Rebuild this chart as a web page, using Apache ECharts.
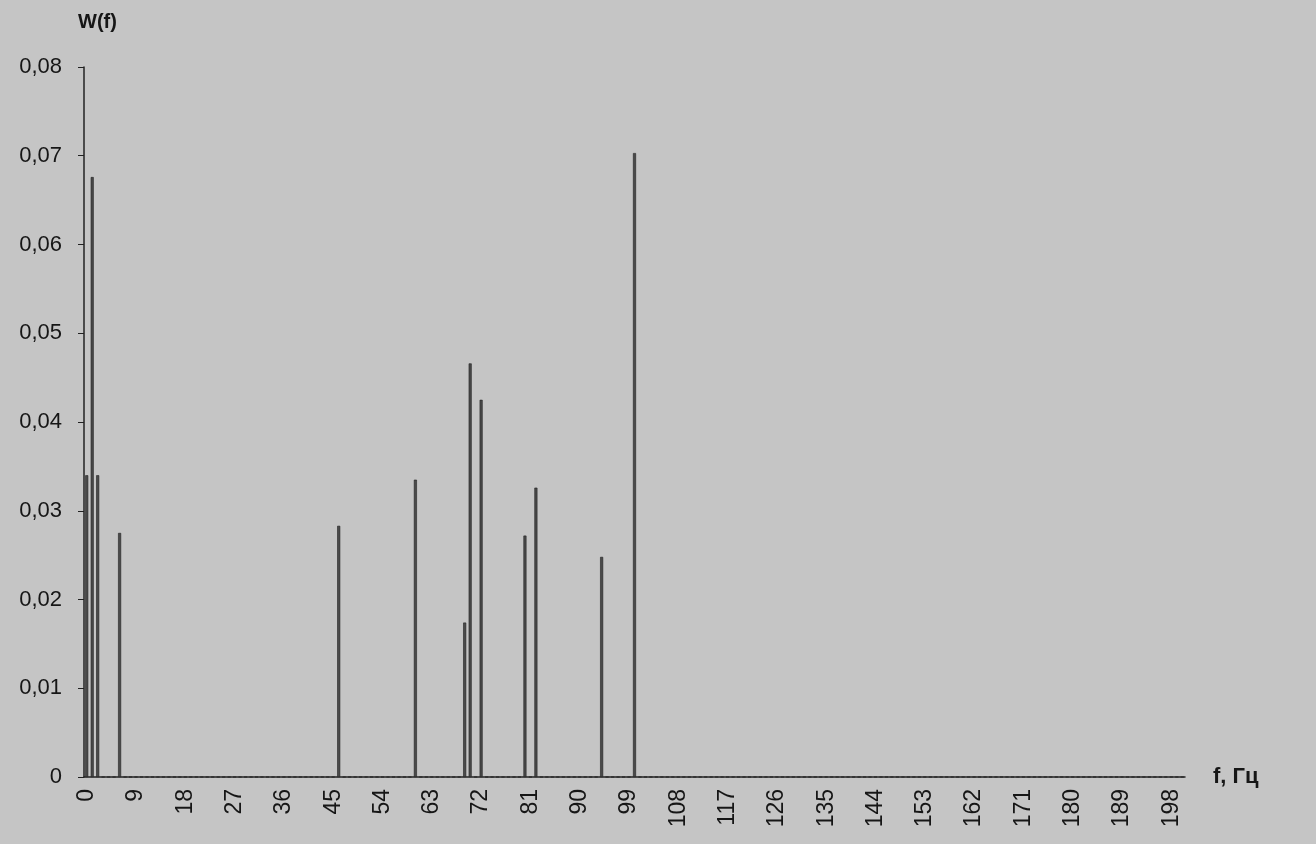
<!DOCTYPE html>
<html>
<head>
<meta charset="utf-8">
<title>W(f)</title>
<script src="https://cdn.jsdelivr.net/npm/echarts@6/dist/echarts.min.js"></script>
<style>
  html, body { margin: 0; padding: 0; background: #c5c5c5; }
  #chart { width: 1316px; height: 844px; }
</style>
</head>
<body>
<div id="chart"></div>
<script>
// частоты, Гц (ось категорий 0..200)
const freqCount = 201;
// пики спектра
const peakFreqs = [0, 1, 2, 6, 46, 60, 69, 70, 72, 80, 82, 94, 100];
const peakValues = [0.034, 0.0676, 0.034, 0.0275, 0.0283, 0.0335, 0.0174, 0.0466, 0.0425, 0.0272, 0.0326, 0.0248, 0.0703];
const yTicks = [0, 0.01, 0.02, 0.03, 0.04, 0.05, 0.06, 0.07, 0.08];

const categories = [];
const values = [];
for (let i = 0; i < freqCount; i++) {
  categories.push(String(i));
  values.push(0);
}
peakFreqs.forEach((f, k) => {
  values[f] = peakValues[k];
});

const textColor = '#161616';
const font = 'Liberation Sans, Arial, sans-serif';

const chart = echarts.init(document.getElementById('chart'));
const option = {
  backgroundColor: '#c5c5c5',
  animation: false,
  grid: { left: 84, right: 131, top: 67, bottom: 67 },
  xAxis: {
    type: 'category',
    data: categories,
    name: 'f, Гц',
    nameLocation: 'end',
    nameGap: 28,
    nameTextStyle: { color: textColor, fontSize: 22, fontWeight: 'bold', fontFamily: font },
    axisLine: { lineStyle: { color: '#222', width: 1.5 } },
    axisTick: { interval: 0, length: 7, lineStyle: { color: '#2a2a2a', width: 1.5 } },
    axisLabel: {
      interval: 8,
      rotate: 90,
      margin: 12,
      color: textColor,
      fontSize: 23,
      fontFamily: font,
    },
    splitLine: { show: false },
  },
  yAxis: {
    type: 'value',
    min: yTicks[0],
    max: yTicks[yTicks.length - 1],
    interval: 0.01,
    name: 'W(f)',
    nameLocation: 'end',
    nameGap: 35,
    nameTextStyle: { color: textColor, fontSize: 20, fontWeight: 'bold', fontFamily: font, align: 'left', padding: [0, 0, 0, -6] },
    axisLine: { show: true, lineStyle: { color: '#222', width: 1.5 } },
    axisTick: { show: true, length: 6, lineStyle: { color: '#222' } },
    axisLabel: {
      color: textColor,
      fontSize: 22,
      fontFamily: font,
      margin: 22,
      formatter: (v) => (v === 0 ? '0' : v.toFixed(2).replace('.', ',')),
    },
    splitLine: { show: false },
  },
  series: [
    {
      type: 'bar',
      data: values,
      barWidth: 3,
      silent: true,
      itemStyle: { color: '#4a4a4a', borderColor: '#222', borderWidth: 0.6 },
    },
  ],
};
chart.setOption(option);
</script>
</body>
</html>
